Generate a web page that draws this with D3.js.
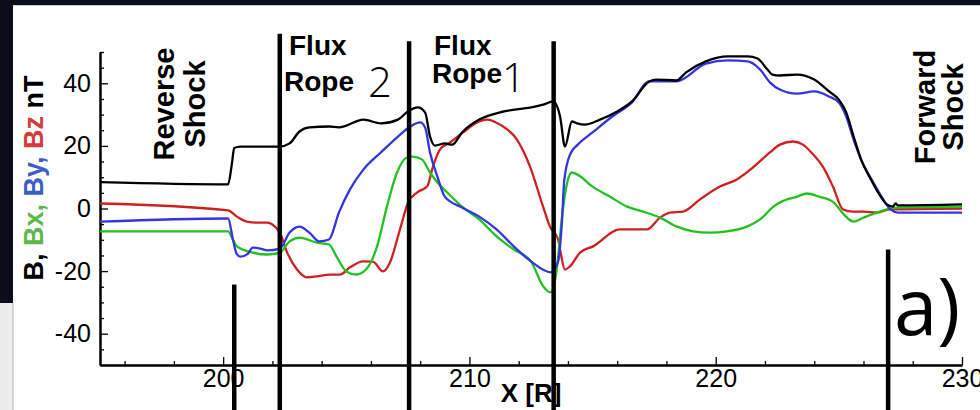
<!DOCTYPE html>
<html>
<head>
<meta charset="utf-8">
<script src="https://cdn.jsdelivr.net/npm/d3@7"></script>
<style>
  body { margin: 0; background: #fff; }
  text { font-family: "Liberation Sans", Arial, Helvetica, sans-serif; }
</style>
</head>
<body>
<div id="chart"></div>
<script>
// magnetic field components along the trajectory, [X, nT]
const bTotal = [
  [195.0, 8.4], [200.2, 7.7], [200.35, 14], [200.45, 19.3], [200.7, 19.8], [202.3, 19.8],
  [202.7, 20.8], [203.1, 24.6], [203.5, 25.9], [204.3, 26.2], [204.7, 25.9], [205.7, 28.4],
  [206.4, 27.2], [207.1, 28.4], [207.5, 31.0], [207.9, 32.3], [208.2, 30.7], [208.4, 23.0],
  [208.6, 20.1], [209.0, 20.8], [209.3, 20.4], [209.7, 24.3], [210.4, 28.4], [211.4, 31.0],
  [212.5, 32.3], [213.0, 33.2], [213.4, 34.2], [213.68, 29.4], [213.88, 19.8], [214.16, 27.8],
  [214.37, 27.2], [214.69, 26.8], [215.3, 28.4], [216.0, 31.0], [216.6, 34.2], [217.3, 40.6],
  [217.6, 41.2], [218.4, 40.9], [218.8, 43.5], [219.6, 47.0], [220.5, 48.6], [221.3, 48.6],
  [221.7, 47.9], [222.1, 44.4], [222.3, 42.8], [222.6, 42.5], [223.3, 42.8], [224.0, 41.2],
  [224.6, 37.4], [225.0, 34.8], [225.3, 30.7], [225.6, 23.0], [225.9, 15.7], [226.3, 9.3],
  [226.7, 3.8], [226.95, 1.3], [227.2, 0.6], [227.3, 1.6], [227.4, 1.0], [230.0, 1.3]
];
const bX = [
  [195.0, -7.3], [200.2, -7.3], [200.4, -10], [200.56, -12.1], [201.2, -14.1], [201.8, -14.7],
  [202.3, -14.1], [202.7, -10.5], [203.1, -9.3], [203.8, -10.9], [204.3, -11.5], [204.6, -15.3],
  [205.0, -20.1], [205.4, -21.1], [205.8, -19.5], [206.25, -12.1], [206.65, 0.6], [207.06, 11.5],
  [207.46, 16.3], [207.7, 16.6], [208.07, 15.7], [208.4, 11.5], [208.7, 8.3], [209.1, 5.1],
  [209.7, 0.6], [210.4, -3.5], [211.1, -8.9], [211.8, -13.1], [212.5, -16.9], [213.0, -24.9],
  [213.3, -26.8], [213.5, -22], [213.8, 0], [213.96, 8], [214.16, 11.5], [214.37, 10.9],
  [215.0, 7.0], [215.7, 3.8], [216.4, 0.6], [217.05, -1.0], [217.74, -2.9], [218.43, -5.8],
  [219.08, -7.3], [219.77, -7.7], [220.46, -7.3], [221.27, -5.8], [221.8, -3.5], [222.3, 0.3],
  [222.6, 1.9], [223.3, 3.8], [223.7, 4.8], [224.2, 3.8], [224.8, 1.9], [225.2, -1.9],
  [225.6, -4.2], [226.0, -2.9], [226.55, -1.3], [226.95, -0.3], [227.4, 0.3], [230.0, 0.5]
];
const bY = [
  [195.0, -4.2], [200.2, -3.2], [200.4, -10], [200.55, -14.5], [200.7, -15.4], [201.0, -14.5],
  [201.2, -12.5], [201.5, -12.8], [201.8, -13.4], [202.3, -12.8], [202.7, -7.7], [203.1, -5.8],
  [203.5, -7.7], [203.9, -10.5], [204.3, -9.9], [204.7, -1.3], [205.15, 6.1], [205.7, 12.5],
  [206.4, 17.9], [207.1, 23.0], [207.6, 26.2], [208.0, 27.5], [208.2, 25.9], [208.4, 17.9],
  [208.7, 10.2], [209.0, 3.8], [209.7, 0.3], [210.4, -2.6], [211.1, -6.7], [211.8, -12.1],
  [212.5, -16.9], [213.3, -20.4], [213.6, -17], [213.75, -5], [213.85, 9], [214.1, 17.5],
  [214.4, 20.4], [215.0, 24.3], [215.8, 29.4], [216.6, 33.9], [217.3, 40.6], [218.4, 40.6],
  [219.6, 46.3], [220.5, 47.3], [221.3, 47.0], [221.8, 44.4], [222.2, 40.3], [222.6, 38.0],
  [223.3, 36.7], [224.0, 37.4], [224.6, 35.8], [225.0, 33.9], [225.3, 29.4], [225.6, 22.0],
  [225.9, 15.7], [226.4, 8.3], [226.8, 2.9], [227.1, -0.3], [227.4, -1.3], [230.0, -1.3]
];
const bZ = [
  [195.0, 1.6], [200.2, -0.6], [200.56, -2.6], [200.97, -4.2], [201.37, -4.5], [201.8, -4.5],
  [202.0, -5.1], [202.3, -7.7], [202.6, -14.1], [203.0, -19.5], [203.4, -22.0], [203.8, -21.7],
  [204.34, -21.1], [204.74, -21.1], [205.15, -18.8], [205.68, -16.9], [206.08, -17.0], [206.49, -20.1],
  [206.77, -17.3], [207.18, -6.7], [207.51, 1.9], [207.87, 5.1], [208.28, 7.0], [208.52, 13.4],
  [208.8, 18.8], [209.21, 21.1], [209.74, 24.3], [210.31, 27.5], [210.71, 28.4], [211.24, 26.8],
  [211.93, 22.0], [212.46, 13.4], [212.99, 0.6], [213.27, -5.8], [213.6, -9.9], [213.7, -14],
  [213.88, -19.5], [214.08, -18.5], [214.49, -14.1], [215.02, -12.1], [216.11, -6.7], [217.21, -6.7],
  [217.74, -2.9], [218.14, -1.3], [218.67, -1.0], [219.36, 2.9], [220.17, 7.0], [220.86, 9.3],
  [221.51, 13.1], [222.2, 17.9], [222.61, 20.4], [223.14, 21.4], [223.54, 20.4], [223.95, 17.3],
  [224.35, 13.4], [224.76, 7.0], [225.17, -0.3], [225.57, -1.0], [225.98, -1.0], [226.55, -1.3],
  [227.07, -0.3], [230.0, 0.0]
];

// boundary markers: X position and the value where the bar starts
const markerX = [200.45, 202.3, 207.55, 213.42, 227.0];
const markerTop = [-24.3, 55.8, 53.4, 53.4, -13.1];

const xMajor = [200, 210, 220, 230];
const xMinor = d3.range(196, 230, 2).filter(d => d % 10 !== 0);
const yMajor = [-40, -20, 0, 20, 40];
const yMinor = d3.range(-45, 51, 5).filter(d => d % 20 !== 0);

const W = 980, H = 410;

const svg = d3.select("#chart").append("svg")
    .attr("width", W)
    .attr("height", H);

// dark screenshot borders
svg.append("rect").attr("x", 0).attr("y", 0).attr("width", W).attr("height", 5).attr("fill", "#0b0e1a");
svg.append("rect").attr("x", 0).attr("y", 0).attr("width", 13).attr("height", 303).attr("fill", "#0b0e1a");
svg.append("rect").attr("x", 0).attr("y", 303).attr("width", 13).attr("height", H - 303).attr("fill", "#ececec");
svg.append("line").attr("x1", 13).attr("x2", 13).attr("y1", 303).attr("y2", H).attr("stroke", "#bbb");
svg.append("line").attr("x1", 13).attr("x2", W).attr("y1", 5.5).attr("y2", 5.5).attr("stroke", "#ccc");

const x = d3.scaleLinear().domain([195, 230]).range([100, 962]);
const y = d3.scaleLinear().domain([-50, 50]).range([365, 52]);

// minor ticks
svg.append("g")
    .attr("transform", "translate(0,365)")
    .call(d3.axisBottom(x).tickValues(xMinor).tickSize(-4).tickSizeOuter(0).tickFormat(""));
svg.append("g")
    .attr("transform", "translate(100,0)")
    .call(d3.axisLeft(y).tickValues(yMinor).tickSize(-4).tickSizeOuter(0).tickFormat(""));

// major ticks with labels (plain hyphen for negatives)
svg.append("g")
    .attr("transform", "translate(0,365)")
    .call(d3.axisBottom(x).tickValues(xMajor).tickSize(-8).tickSizeOuter(0).tickPadding(4)
      .tickFormat(d => String(d)));
svg.append("g")
    .attr("transform", "translate(100,0)")
    .call(d3.axisLeft(y).tickValues(yMajor).tickSize(-8).tickSizeOuter(0).tickPadding(9)
      .tickFormat(d => String(d)));

svg.selectAll(".domain").attr("stroke", "#000").attr("stroke-width", 2);
svg.selectAll(".tick line").attr("stroke", "#000").attr("stroke-width", 1.3);
svg.selectAll(".tick text")
    .attr("fill", "#000")
    .style("font-family", "'Liberation Sans', Arial, sans-serif")
    .style("font-size", "25px");

// data lines
const line = d3.line()
    .x(d => x(d[0]))
    .y(d => y(d[1]))
    .curve(d3.curveMonotoneX);

const series = [
  { data: bZ, color: "#d01f1f" },
  { data: bX, color: "#1fc21f" },
  { data: bY, color: "#3434e0" },
  { data: bTotal, color: "#000000" }
];

svg.selectAll(".series")
  .data(series)
  .enter().append("path")
    .attr("class", "series")
    .attr("d", d => line(d.data))
    .attr("fill", "none")
    .attr("stroke", d => d.color)
    .attr("stroke-width", 2.3)
    .attr("stroke-linejoin", "round");

// boundary bars
svg.selectAll(".marker")
  .data(markerX)
  .enter().append("line")
    .attr("class", "marker")
    .attr("x1", d => x(d))
    .attr("x2", d => x(d))
    .attr("y1", (d, i) => y(markerTop[i]))
    .attr("y2", H)
    .attr("stroke", "#000")
    .attr("stroke-width", 4.5);

// y axis title
const yTitle = svg.append("text")
    .attr("transform", "translate(43,178) rotate(-90)")
    .attr("text-anchor", "middle")
    .style("font-size", "27px")
    .style("font-weight", "bold");
yTitle.append("tspan").attr("fill", "#000").text("B, ");
yTitle.append("tspan").attr("fill", "#5db84a").text("Bx, ");
yTitle.append("tspan").attr("fill", "#3d5fc4").text("By, ");
yTitle.append("tspan").attr("fill", "#d63a3a").text("Bz ");
yTitle.append("tspan").attr("fill", "#000").text("nT");

// x axis title
svg.append("text")
    .attr("x", 531)
    .attr("y", 402)
    .attr("text-anchor", "middle")
    .style("font-size", "26px")
    .style("font-weight", "bold")
    .text("X [R]");

// region labels
function rotated(lines, cx, cy, gap) {
  lines.forEach((t, i) => {
    svg.append("text")
        .attr("transform", "translate(" + (cx + i * gap) + "," + cy + ") rotate(-90)")
        .attr("text-anchor", "middle")
        .style("font-size", "29px")
        .style("font-weight", "bold")
        .text(t);
  });
}
rotated(["Reverse", "Shock"], 174, 104, 31);
rotated(["Forward", "Shock"], 935, 107, 28);

function stacked(lines, x0, baselines) {
  lines.forEach((t, i) => {
    svg.append("text")
        .attr("x", x0[i])
        .attr("y", baselines[i])
        .style("font-size", "28px")
        .style("font-weight", "bold")
        .text(t);
  });
}
stacked(["Flux", "Rope"], [289, 284], [55, 91]);
stacked(["Flux", "Rope"], [434, 432], [55, 83]);

svg.append("text")
    .attr("x", 368).attr("y", 97)
    .style("font-family", "'Open Sans', sans-serif")
    .style("font-weight", 300)
    .style("font-size", "42px")
    .text("2");
svg.append("text")
    .attr("x", 502).attr("y", 92)
    .style("font-family", "'Open Sans', sans-serif")
    .style("font-weight", 300)
    .style("font-size", "41px")
    .text("1");

svg.append("text")
    .attr("x", 894).attr("y", 335)
    .style("font-family", "'Open Sans', sans-serif")
    .style("font-weight", 400)
    .style("font-size", "78px")
    .text("a)");
</script>
</body>
</html>
